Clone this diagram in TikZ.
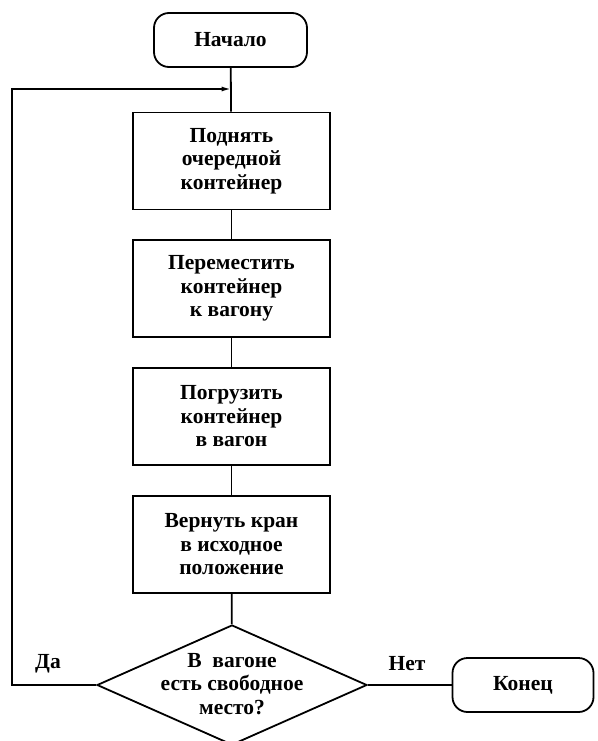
\documentclass[tikz,border=0pt]{standalone}
\usepackage{fontspec}
\setmainfont{Liberation Serif}
\usetikzlibrary{shapes.geometric,arrows.meta}
\begin{document}
\begin{tikzpicture}[x=1pt,y=-1pt,
  line width=1.8pt,
  txt/.style={font=\fontsize{21.5}{23.5}\selectfont\bfseries, align=center},
  term/.style={txt, draw, rounded corners=15pt, minimum width=153pt, minimum height=54pt, inner sep=0pt},
  proc/.style={txt, draw, minimum width=197pt, minimum height=97pt, inner sep=0pt},
  cond/.style={draw, diamond, minimum width=270pt, minimum height=120pt, inner sep=0pt},
  lbl/.style={font=\fontsize{21.5}{23.5}\selectfont\bfseries, inner sep=0pt},
  link/.style={line width=1.8pt},
  back/.style={line width=1.8pt, -{Latex[length=10pt,width=5pt]}}]
\useasboundingbox (0,0) rectangle (597,741);

% terminals
\node[term] (start) at (230.5,40) {Начало};
\node[term, minimum width=141pt] (stop) at (523,685) {Конец};

% actions
\node[proc] (p1) at (231.5,161) {Поднять\\очередной\\контейнер};
\node[proc] (p2) at (231.5,288.5) {Переместить\\контейнер\\к вагону};
\node[proc] (p3) at (231.5,416.5) {Погрузить\\контейнер\\в вагон};
\node[proc] (p4) at (231.5,544.5) {Вернуть кран\\в исходное\\положение};

% test
\node[cond] (test) at (232,685) {};
\node[txt, inner sep=0pt] (testtext) at ([yshift=1pt]test.center) {В\ \ вагоне\\есть свободное\\место?};

% junction where the loop returns
\coordinate (join) at (231.5,89);
\coordinate (corner) at (12,685);

\draw[link] (start) -- (p1);
\draw[link] (p1) -- (p2);
\draw[link] (p2) -- (p3);
\draw[link] (p3) -- (p4);
\draw[link] (p4) -- (test);
\draw[link] (test.east) -- (stop.west);
\draw[back] (test.west) -- (corner) |- (join);

% branch labels
\node[lbl] (yes) at (48,664) {Да};
\node[lbl] (no) at (407,664) {Нет};
\end{tikzpicture}
\end{document}
